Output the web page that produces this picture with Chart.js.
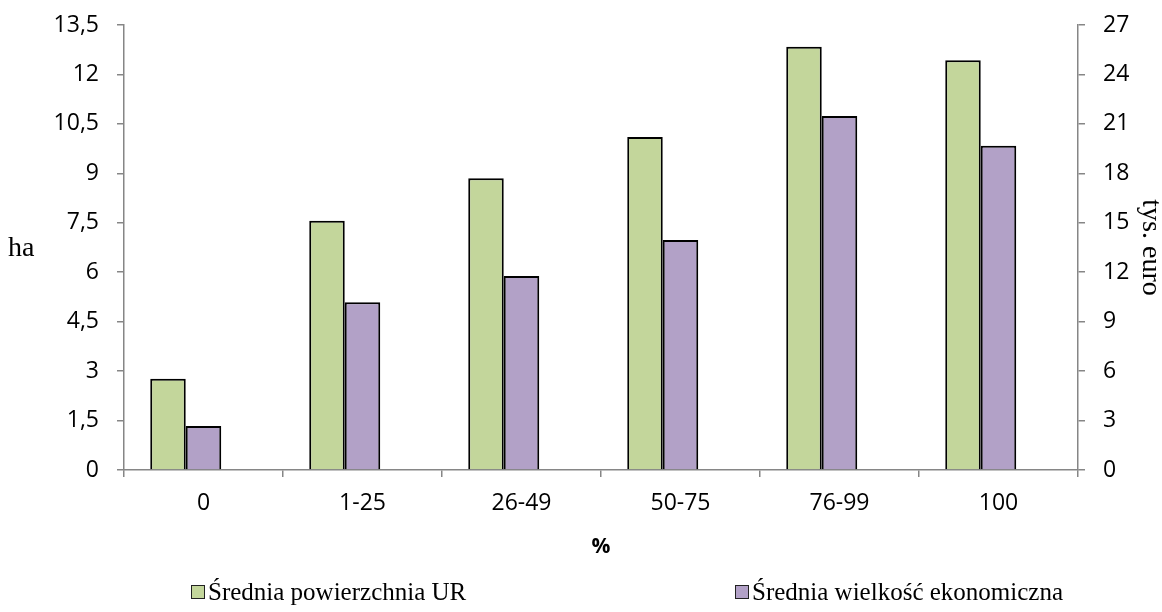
<!DOCTYPE html>
<html>
<head>
<meta charset="utf-8">
<script src="https://cdn.jsdelivr.net/npm/chart.js@4.4.1/dist/chart.umd.min.js"></script>
<style>
  html, body { margin: 0; padding: 0; background: #fff; }
  #wrap { position: relative; width: 1162px; height: 612px; }
  #legend {
    position: absolute; left: 0; top: 578px; width: 1162px; height: 30px;
    font-family: "Liberation Serif", "Times New Roman", serif; font-size: 25px; color: #000;
  }
  .leg-item { position: absolute; top: 0; display: flex; align-items: center; white-space: nowrap; }
  .leg-box { width: 12px; height: 12px; border: 1.5px solid #222; margin-right: 3px; }
</style>
</head>
<body>
<div id="wrap">
  <canvas id="chart" width="1162" height="612"></canvas>
  <div id="legend"></div>
</div>
<script>
// ── Data ────────────────────────────────────────────
const categories = ['0', '1-25', '26-49', '50-75', '76-99', '100'];
const areaHa = [2.77, 7.56, 8.85, 10.1, 12.84, 12.43];        // left axis (ha)
const econSize = [2.67, 10.18, 11.77, 13.96, 21.48, 19.68];   // right axis (tys. euro)
const seriesNames = ['Średnia powierzchnia UR', 'Średnia wielkość ekonomiczna'];
const seriesColors = ['#C3D69B', '#B2A1C7'];
const legendLeft = [191, 735];

const TICK_FONT = { family: '"Open Sans", sans-serif', size: 23 };
const SERIF = '"Liberation Serif", "Times New Roman", serif';
const AXIS_GREY = '#868686';

const fmt = (v) => String(Number(v.toFixed(1))).replace('.', ',');

// fixed axis width, and no extra label padding so layout.padding.top sets the top
const fixWidth = (w) => (s) => {
  s.width = w;
  s.paddingTop = 0;
  s.paddingBottom = 0;
};

// "ha" label drawn horizontally left of the primary axis
const haLabel = {
  id: 'haLabel',
  afterDraw(chart) {
    const { ctx, chartArea } = chart;
    ctx.save();
    ctx.font = `28px ${SERIF}`;
    ctx.fillStyle = '#000';
    ctx.textAlign = 'left';
    ctx.textBaseline = 'middle';
    ctx.fillText('ha', 8, (chartArea.top + chartArea.bottom) / 2 + 1);
    ctx.restore();
  },
};

const ctx = document.getElementById('chart').getContext('2d');
const chart = new Chart(ctx, {
  type: 'bar',
  data: {
    labels: categories,
    datasets: [
      {
        label: seriesNames[0],
        data: areaHa,
        yAxisID: 'y',
        backgroundColor: seriesColors[0],
        borderColor: '#000',
        borderWidth: 2,
      },
      {
        label: seriesNames[1],
        data: econSize,
        yAxisID: 'y1',
        backgroundColor: seriesColors[1],
        borderColor: '#000',
        borderWidth: 2,
      },
      {
        // empty slot so bars sit left of the category centre like the original
        label: '',
        data: categories.map(() => null),
        yAxisID: 'y',
      },
    ],
  },
  options: {
    responsive: false,
    animation: false,
    devicePixelRatio: 1,
    categoryPercentage: 0.67,
    barPercentage: 1,
    layout: { padding: { top: 25, left: 0, right: 0, bottom: 42 } },
    plugins: {
      legend: { display: false },
      tooltip: { enabled: false },
    },
    scales: {
      x: {
        grid: {
          offset: true,
          drawOnChartArea: false,
          drawTicks: true,
          tickLength: 7,
          color: AXIS_GREY,
          lineWidth: 1.5,
        },
        border: { color: AXIS_GREY, width: 1.5 },
        ticks: { color: '#000', font: TICK_FONT, padding: 13, maxRotation: 0 },
        title: {
          display: true,
          text: '%',
          color: '#000',
          font: { family: '"Open Sans", sans-serif', size: 21, weight: 'bold' },
          padding: { top: 0, bottom: 10 },
        },
        afterFit: (s) => { s.height = 100; },
      },
      y: {
        position: 'left',
        min: 0,
        max: 13.5,
        grid: {
          drawOnChartArea: false,
          drawTicks: true,
          tickLength: 7,
          color: AXIS_GREY,
          lineWidth: 1.5,
        },
        border: { color: AXIS_GREY, width: 1.5 },
        ticks: { stepSize: 1.5, color: '#000', font: TICK_FONT, padding: 18, callback: fmt },
        afterFit: fixWidth(124),
      },
      y1: {
        position: 'right',
        min: 0,
        max: 27,
        grid: {
          drawOnChartArea: false,
          drawTicks: true,
          tickLength: 7,
          color: AXIS_GREY,
          lineWidth: 1.5,
        },
        border: { color: AXIS_GREY, width: 1.5 },
        ticks: { stepSize: 3, color: '#000', font: TICK_FONT, padding: 18, callback: fmt },
        title: {
          display: true,
          text: 'tys. euro',
          color: '#000',
          font: { family: SERIF, size: 28, lineHeight: 0.8 },
          padding: 0,
        },
        afterFit: fixWidth(84),
      },
    },
  },
  plugins: [haLabel],
});

// ── HTML legend built from the two real series ──────
const legend = document.getElementById('legend');
chart.data.datasets.slice(0, 2).forEach((ds, i) => {
  const item = document.createElement('div');
  item.className = 'leg-item';
  item.style.left = legendLeft[i] + 'px';
  item.innerHTML = `<span class="leg-box" style="background:${ds.backgroundColor}"></span><span>${ds.label}</span>`;
  legend.appendChild(item);
});
</script>
</body>
</html>
